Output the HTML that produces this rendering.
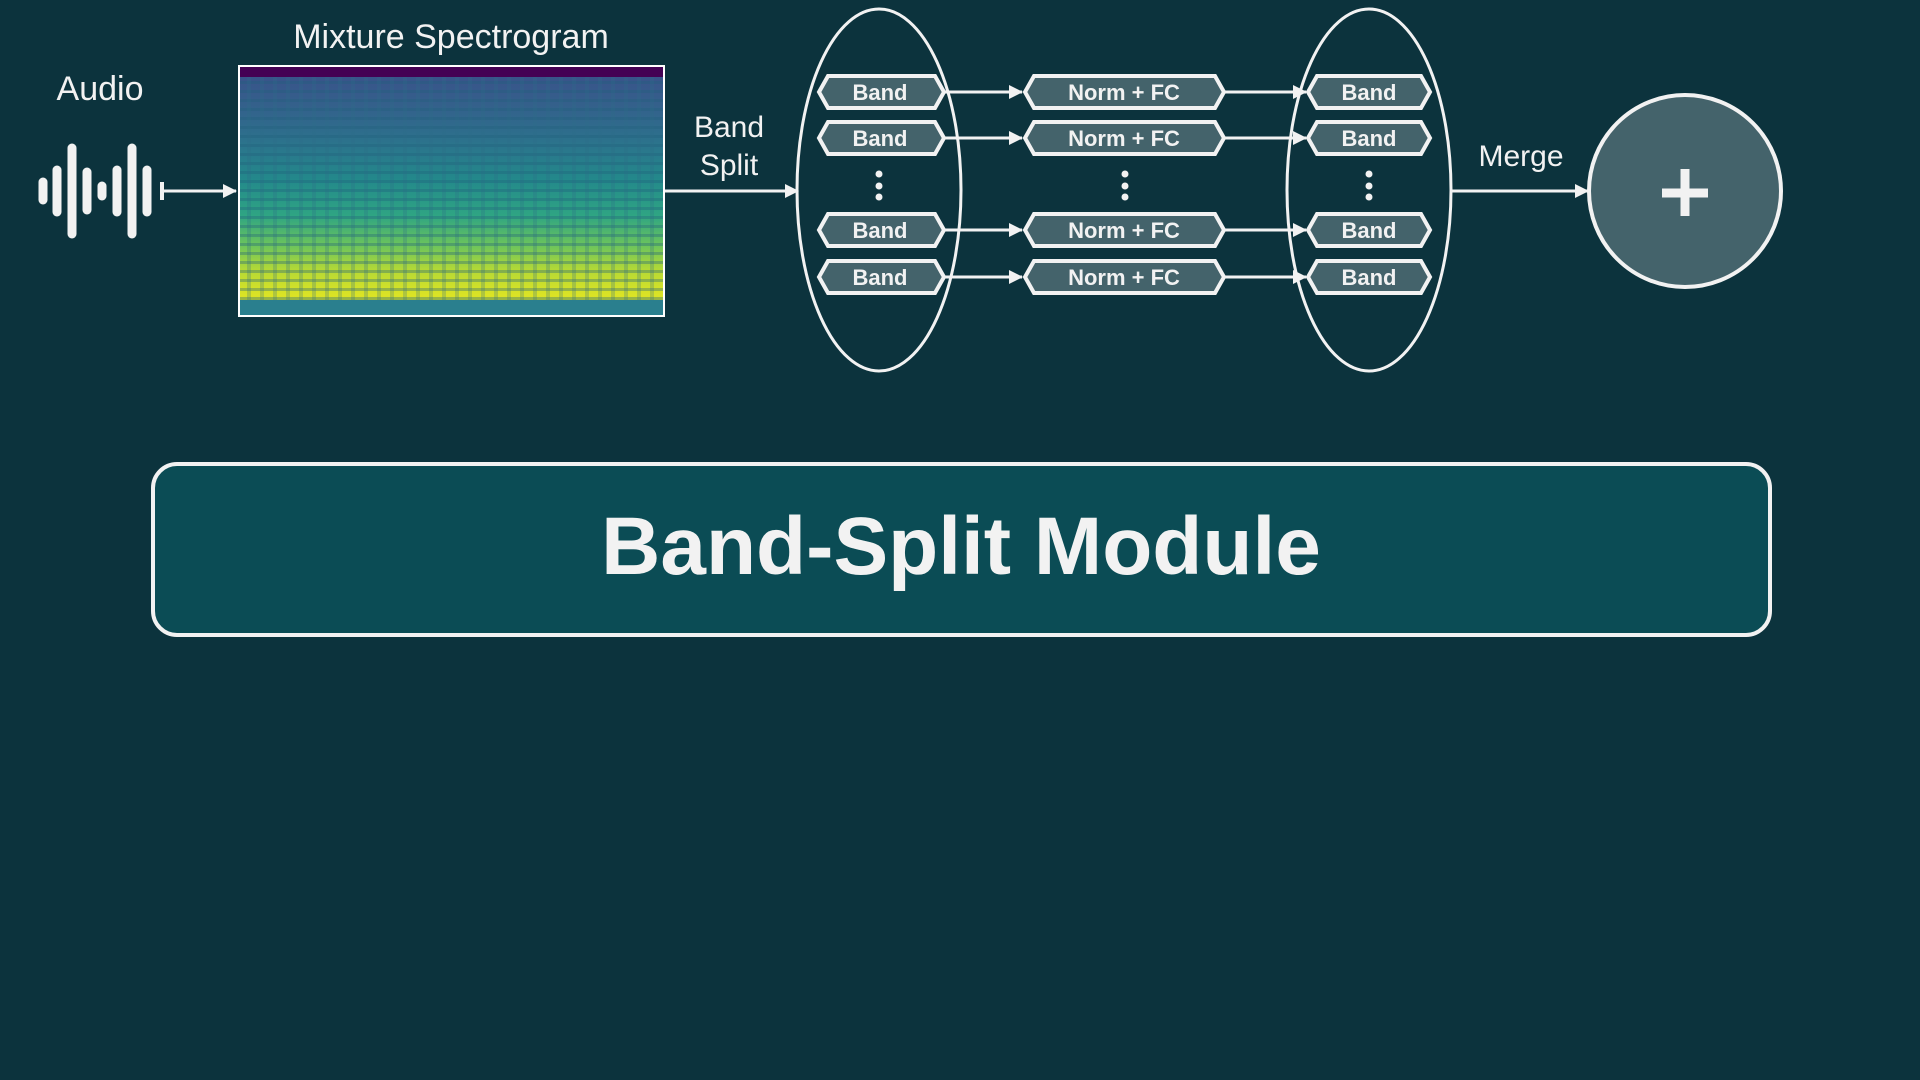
<!DOCTYPE html>
<html><head><meta charset="utf-8"><style>
html,body{margin:0;padding:0;background:#0c333d;}
svg{display:block}
text{font-family:"Liberation Sans",sans-serif;fill:#f2f2f2}
</style></head><body>
<svg width="1920" height="1080" viewBox="0 0 1920 1080" xmlns="http://www.w3.org/2000/svg">
<defs>
<marker id="ah" markerWidth="14" markerHeight="14" refX="13" refY="7" orient="auto" markerUnits="userSpaceOnUse"><path d="M0,0 L14,7 L0,14 z" fill="#f2f2f2"/></marker>
<linearGradient id="spec" x1="0" y1="0" x2="0" y2="1">
<stop offset="0" stop-color="#3b4f8a"/>
<stop offset="0.25" stop-color="#2f6b8c"/>
<stop offset="0.45" stop-color="#23888b"/>
<stop offset="0.6" stop-color="#2fa583"/>
<stop offset="0.72" stop-color="#6cc45c"/>
<stop offset="0.82" stop-color="#b5d935"/>
<stop offset="0.92" stop-color="#dbe325"/>
<stop offset="1" stop-color="#c9df2a"/>
</linearGradient>
<pattern id="hstripe" width="8" height="9" patternUnits="userSpaceOnUse"><rect width="8" height="3" fill="#1f5f7a" opacity="0.35"/></pattern>
<pattern id="vstripe" width="13" height="8" patternUnits="userSpaceOnUse"><rect width="4" height="8" fill="#2a6a88" opacity="0.25"/></pattern>
</defs>

<text x="100" y="100" font-size="34" text-anchor="middle">Audio</text>
<g stroke="#f2f2f2" stroke-width="9" stroke-linecap="round">
<line x1="43" y1="182" x2="43" y2="200"/>
<line x1="57" y1="170" x2="57" y2="212"/>
<line x1="72" y1="148" x2="72" y2="234"/>
<line x1="87" y1="172" x2="87" y2="210"/>
<line x1="102" y1="186" x2="102" y2="196"/>
<line x1="117" y1="170" x2="117" y2="212"/>
<line x1="132" y1="148" x2="132" y2="234"/>
<line x1="147" y1="170" x2="147" y2="212"/>
</g>
<line x1="162" y1="182" x2="162" y2="200" stroke="#f2f2f2" stroke-width="4"/>
<line x1="162" y1="191" x2="236" y2="191" stroke="#f2f2f2" stroke-width="3" marker-end="url(#ah)"/>

<text x="451" y="48" font-size="34" text-anchor="middle">Mixture Spectrogram</text>
<rect x="238" y="65" width="427" height="252" fill="#fff"/>
<rect x="240" y="67" width="423" height="248" fill="url(#spec)"/>
<rect x="240" y="67" width="423" height="248" fill="url(#hstripe)"/>
<rect x="240" y="67" width="423" height="248" fill="url(#vstripe)"/>
<rect x="240" y="67" width="423" height="10" fill="#440154"/>
<rect x="240" y="300" width="423" height="15" fill="#2a7f8e"/>

<text x="729" y="137" font-size="30" text-anchor="middle">Band</text>
<text x="729" y="175" font-size="30" text-anchor="middle">Split</text>
<line x1="665" y1="191" x2="798" y2="191" stroke="#f2f2f2" stroke-width="3" marker-end="url(#ah)"/>

<ellipse cx="879" cy="190" rx="82" ry="181" fill="none" stroke="#f2f2f2" stroke-width="3"/>
<ellipse cx="1369" cy="190" rx="82" ry="181" fill="none" stroke="#f2f2f2" stroke-width="3"/>

<g stroke="#f2f2f2" stroke-width="3" fill="none">
<line x1="943" y1="92" x2="1022" y2="92" marker-end="url(#ah)"/>
<line x1="943" y1="138" x2="1022" y2="138" marker-end="url(#ah)"/>
<line x1="943" y1="230" x2="1022" y2="230" marker-end="url(#ah)"/>
<line x1="943" y1="277" x2="1022" y2="277" marker-end="url(#ah)"/>
<line x1="1224" y1="92" x2="1306" y2="92" marker-end="url(#ah)"/>
<line x1="1224" y1="138" x2="1306" y2="138" marker-end="url(#ah)"/>
<line x1="1224" y1="230" x2="1306" y2="230" marker-end="url(#ah)"/>
<line x1="1224" y1="277" x2="1306" y2="277" marker-end="url(#ah)"/>
</g>

<g fill="#44636b" stroke="#f2f2f2" stroke-width="4">
<polygon points="828,76 935,76 944,92 935,108 828,108 819,92"/>
<polygon points="828,122 935,122 944,138 935,154 828,154 819,138"/>
<polygon points="828,214 935,214 944,230 935,246 828,246 819,230"/>
<polygon points="828,261 935,261 944,277 935,293 828,293 819,277"/>
<polygon points="1034,76 1215,76 1224,92 1215,108 1034,108 1025,92"/>
<polygon points="1034,122 1215,122 1224,138 1215,154 1034,154 1025,138"/>
<polygon points="1034,214 1215,214 1224,230 1215,246 1034,246 1025,230"/>
<polygon points="1034,261 1215,261 1224,277 1215,293 1034,293 1025,277"/>
<polygon points="1317,76 1421,76 1430,92 1421,108 1317,108 1308,92"/>
<polygon points="1317,122 1421,122 1430,138 1421,154 1317,154 1308,138"/>
<polygon points="1317,214 1421,214 1430,230 1421,246 1317,246 1308,230"/>
<polygon points="1317,261 1421,261 1430,277 1421,293 1317,293 1308,277"/>
</g>
<g font-size="22" font-weight="bold" text-anchor="middle">
<text x="880" y="100">Band</text><text x="880" y="146">Band</text><text x="880" y="238">Band</text><text x="880" y="285">Band</text>
<text x="1124" y="100">Norm + FC</text><text x="1124" y="146">Norm + FC</text><text x="1124" y="238">Norm + FC</text><text x="1124" y="285">Norm + FC</text>
<text x="1369" y="100">Band</text><text x="1369" y="146">Band</text><text x="1369" y="238">Band</text><text x="1369" y="285">Band</text>
</g>
<g fill="#f2f2f2">
<circle cx="879" cy="174" r="3.5"/><circle cx="879" cy="186" r="3.5"/><circle cx="879" cy="197" r="3.5"/>
<circle cx="1125" cy="174" r="3.5"/><circle cx="1125" cy="186" r="3.5"/><circle cx="1125" cy="197" r="3.5"/>
<circle cx="1369" cy="174" r="3.5"/><circle cx="1369" cy="186" r="3.5"/><circle cx="1369" cy="197" r="3.5"/>
</g>

<text x="1521" y="166" font-size="30" text-anchor="middle">Merge</text>
<line x1="1451" y1="191" x2="1588" y2="191" stroke="#f2f2f2" stroke-width="3" marker-end="url(#ah)"/>
<circle cx="1685" cy="191" r="96" fill="#44636b" stroke="#f2f2f2" stroke-width="4"/>
<g stroke="#f2f2f2" stroke-width="9"><line x1="1662" y1="193" x2="1708" y2="193"/><line x1="1685" y1="169" x2="1685" y2="216"/></g>

<rect x="153" y="464" width="1617" height="171" rx="24" fill="#0b4c55" stroke="#f2f2f2" stroke-width="4"/>
<text x="961" y="574" font-size="82" font-weight="bold" text-anchor="middle">Band-Split Module</text>
</svg>
</body></html>
